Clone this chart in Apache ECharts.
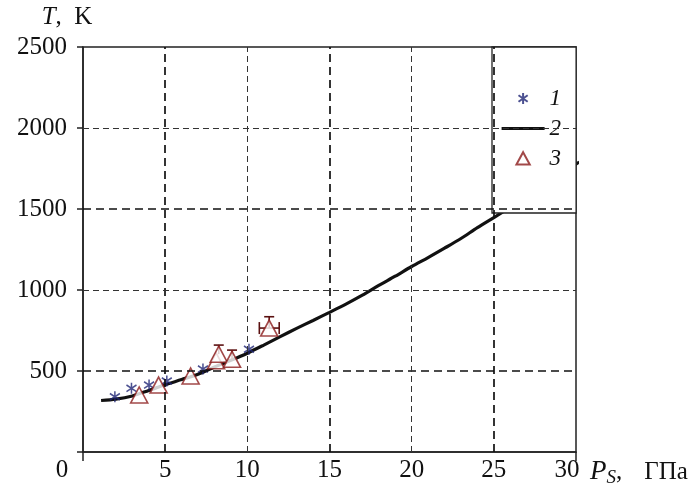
<!DOCTYPE html>
<html>
<head>
<meta charset="utf-8">
<script src="https://cdn.jsdelivr.net/npm/echarts@6/dist/echarts.min.js"></script>
<style>
  html, body { margin: 0; padding: 0; background: #fff; }
  #chart { width: 691px; height: 491px; }
</style>
</head>
<body>
<div id="chart"></div>
<script>
// Axis ticks
const xTicks = [0, 5, 10, 15, 20, 25, 30];
const yTicks = [500, 1000, 1500, 2000, 2500];
const gridBoldX = [5, 15, 25];
const gridThinX = [10, 20];
const gridBoldY = [500, 1500];
const gridThinY = [1000, 2000];

// Series 2: calculated curve T(P_S)
const curveP = [1.1, 2, 3, 4, 5, 6, 7, 8, 9, 10, 11, 12, 13, 14, 15, 16, 17, 18, 19, 20, 21, 22, 23, 24, 25, 26, 27, 28, 29, 30.2];
const curveT = [318, 326, 346, 380, 415, 447, 480, 525, 566, 610, 660, 712, 763, 812, 862, 913, 968, 1028, 1085, 1145, 1200, 1258, 1318, 1385, 1447, 1510, 1575, 1640, 1710, 1790];

// Series 1: measured points (asterisks)
const set1P = [1.94, 2.95, 4.02, 5.1, 7.3, 10.1];
const set1T = [341, 393, 413, 438, 512, 634];

// Series 3: measured points (triangles) with error bars
const set3P = [3.42, 4.6, 6.55, 8.1, 8.26, 9.07, 11.33];
const set3T = [352, 413, 469, 563, 604, 572, 765];
const set3ErrLo = [null, null, null, null, null, null, 10.73];
const set3ErrHi = [null, null, null, null, null, null, 11.94];
const set3ErrTop = [null, null, null, null, 660, 629, 835];

const SERIF = 'Liberation Serif';
const INK = '#111';
const NAVY = '#1f2575';
const DARKRED = '#8b1c1c';
const ASTERISK = 'path://M0,-1L0,1M-0.85,-0.6L0.85,0.6M-0.85,0.6L0.85,-0.6';
// legend glyphs: same shapes padded with empty margin so they keep a small square footprint
const ASTERISK_KEY = 'path://M-1.3,-1.3M1.3,1.3M0,-1L0,1M-0.85,-0.6L0.85,0.6M-0.85,0.6L0.85,-0.6';
const TRIANGLE_KEY = 'path://M-1.05,-1.05M1.05,1.05M0,-0.95L1,0.9L-1,0.9Z';

const chart = echarts.init(document.getElementById('chart'), null, { renderer: 'canvas' });

const gridLines = [];
gridBoldX.forEach(v => gridLines.push({ xAxis: v, lineStyle: { width: 1.7, color: '#111', type: [8, 5] } }));
gridBoldY.forEach(v => gridLines.push({ yAxis: v, lineStyle: { width: 1.7, color: '#111', type: [8, 5] } }));
gridThinX.forEach(v => gridLines.push({ xAxis: v, lineStyle: { width: 1, color: '#333', type: [6, 4] } }));
gridThinY.forEach(v => gridLines.push({ yAxis: v, lineStyle: { width: 1, color: '#333', type: [6, 4] } }));

const option = {
  animation: false,
  backgroundColor: '#fff',
  grid: {
    left: 83, right: 115, top: 47, bottom: 39,
    show: true, borderColor: '#222', borderWidth: 1.5, backgroundColor: 'transparent'
  },
  legend: {
    data: [
      { name: '1', icon: ASTERISK_KEY },
      { name: '2', itemStyle: { opacity: 0 }, lineStyle: { width: 3.2, color: INK, opacity: 1 } },
      { name: '3', icon: TRIANGLE_KEY }
    ],
    orient: 'vertical',
    left: 492, top: 47,
    padding: [40, 15, 43, 8],
    itemWidth: 43, itemHeight: 14, itemGap: 7,
    symbolKeepAspect: true,
    backgroundColor: '#fff',
    borderColor: '#222', borderWidth: 1.3, borderRadius: 0,
    textStyle: { fontFamily: SERIF, fontStyle: 'italic', fontSize: 23, color: INK },
    selectedMode: false
  },
  xAxis: {
    type: 'value', min: 0, max: 30, interval: 5,
    name: '{i|P}{s|S}{n|,}{c|ГПа}',
    nameLocation: 'end', nameGap: 14,
    nameTextStyle: {
      fontFamily: SERIF, fontSize: 25, color: INK, padding: [40, 0, 0, 0],
      rich: {
        i: { fontFamily: SERIF, fontSize: 27, fontStyle: 'italic', color: INK },
        s: { fontFamily: SERIF, fontSize: 19, fontStyle: 'italic', color: INK, padding: [12, 0, 0, 0] },
        n: { fontFamily: SERIF, fontSize: 25, color: INK },
        c: { fontFamily: SERIF, fontSize: 25, color: INK, padding: [0, 0, 0, 22] }
      }
    },
    axisLine: { show: true, lineStyle: { color: '#222', width: 1.5 } },
    axisTick: { show: true, customValues: [0, 30], length: 9, lineStyle: { color: '#222', width: 1.5 } },
    splitLine: { show: false },
    axisLabel: {
      customValues: xTicks,
      margin: 6,
      fontFamily: SERIF, fontSize: 25, color: INK,
      formatter: v => v === 0 ? '{l|0}' : (v === 30 ? '{r|30}' : String(v)),
      rich: {
        l: { fontFamily: SERIF, fontSize: 25, color: INK, padding: [0, 42, 0, 0] },
        r: { fontFamily: SERIF, fontSize: 25, color: INK, padding: [0, 18, 0, 0] }
      }
    }
  },
  yAxis: {
    type: 'value', min: 0, max: 2500, interval: 500,
    name: '{i|T},  K',
    nameLocation: 'end', nameGap: 17,
    nameTextStyle: {
      fontFamily: SERIF, fontSize: 25, color: INK, align: 'center', padding: [0, 32, 0, 0],
      rich: { i: { fontFamily: SERIF, fontSize: 25, fontStyle: 'italic', color: INK } }
    },
    axisLine: { show: true, lineStyle: { color: '#222', width: 1.5 } },
    axisTick: { show: true, customValues: [0, 500, 1000, 1500, 2000, 2500], length: 6, lineStyle: { color: '#222', width: 1.5 } },
    splitLine: { show: false },
    axisLabel: {
      customValues: yTicks,
      margin: 16,
      fontFamily: SERIF, fontSize: 25, color: INK,
      formatter: v => String(v)
    }
  },
  series: [
    {
      name: 'gridlines',
      type: 'line',
      data: [],
      z: 1,
      markLine: { silent: true, symbol: 'none', label: { show: false }, animation: false, data: gridLines }
    },
    {
      name: '2',
      type: 'line',
      data: curveP.map((p, i) => [p, curveT[i]]),
      symbol: 'none',
      smooth: 0.3,
      clip: false,
      lineStyle: { color: INK, width: 3.2 },
      itemStyle: { color: INK },
      z: 2
    },
    {
      name: '1',
      type: 'scatter',
      data: set1P.map((p, i) => [p, set1T[i]]),
      symbol: ASTERISK,
      symbolSize: [10, 11],
      itemStyle: { color: 'rgba(0,0,0,0)', borderColor: NAVY, borderWidth: 1.6 },
      z: 3
    },
    {
      name: 'errors',
      type: 'custom',
      data: set3P.map((p, i) => [p, set3T[i], set3ErrLo[i], set3ErrHi[i], set3ErrTop[i]]),
      encode: { x: 0, y: 1 },
      z: 3,
      renderItem: (params, api) => {
        const p = api.value(0), t = api.value(1);
        const lo = api.value(2), hi = api.value(3), top = api.value(4);
        const style = { stroke: '#5a1010', lineWidth: 1.6 };
        const children = [];
        const c = api.coord([p, t]);
        if (Number.isFinite(lo) && Number.isFinite(hi)) {
          const a = api.coord([lo, t]), b = api.coord([hi, t]);
          children.push({ type: 'line', shape: { x1: a[0], y1: a[1], x2: b[0], y2: b[1] }, style });
          children.push({ type: 'line', shape: { x1: a[0], y1: a[1] - 6, x2: a[0], y2: a[1] + 6 }, style });
          children.push({ type: 'line', shape: { x1: b[0], y1: b[1] - 6, x2: b[0], y2: b[1] + 6 }, style });
        }
        if (Number.isFinite(top)) {
          const u = api.coord([p, top]);
          children.push({ type: 'line', shape: { x1: c[0], y1: c[1], x2: u[0], y2: u[1] }, style });
          children.push({ type: 'line', shape: { x1: u[0] - 5, y1: u[1], x2: u[0] + 5, y2: u[1] }, style });
        }
        return { type: 'group', children };
      }
    },
    {
      name: '3',
      type: 'scatter',
      data: set3P.map((p, i) => [p, set3T[i]]),
      symbol: 'triangle',
      symbolSize: [17, 16],
      itemStyle: { color: '#fff', borderColor: DARKRED, borderWidth: 1.6 },
      z: 4
    }
  ]
};

chart.setOption(option);
</script>
</body>
</html>
